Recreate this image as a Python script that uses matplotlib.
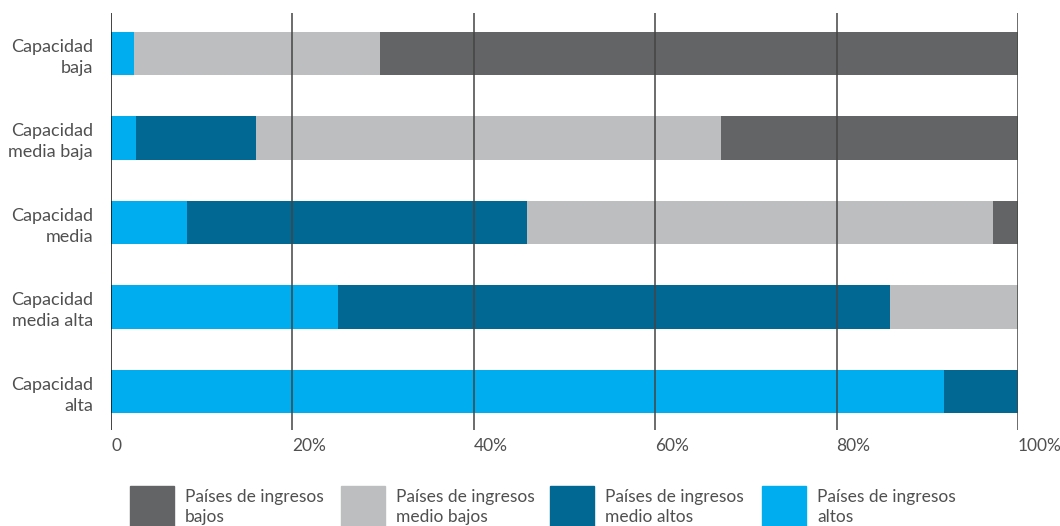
import numpy as np
import matplotlib.pyplot as plt
from matplotlib.patches import Rectangle

plt.rcParams['font.family'] = ['Lato', 'DejaVu Sans']

# income groups share per capacity level (percent)
categorias = ['Capacidad\nbaja', 'Capacidad\nmedia baja', 'Capacidad\nmedia',
              'Capacidad\nmedia alta', 'Capacidad\nalta']
altos = [2.5, 2.8, 8.4, 25.0, 91.8]
medio_altos = [0.0, 13.2, 37.5, 60.9, 8.2]
medio_bajos = [27.2, 51.3, 51.3, 14.1, 0.0]
bajos = [70.3, 32.7, 2.8, 0.0, 0.0]

series = [altos, medio_altos, medio_bajos, bajos]
colores = ['#00aeef', '#006892', '#bcbec0', '#636466']
etiquetas = ['Países de ingresos\naltos', 'Países de ingresos\nmedio altos',
             'Países de ingresos\nmedio bajos', 'Países de ingresos\nbajos']
ticks = [0, 20, 40, 60, 80, 100]
tick_labels = ['0', '20%', '40%', '60%', '80%', '100%']

txt = '#505050'

fig = plt.figure(figsize=(10.6, 5.26), dpi=100)
ax = fig.add_axes([111 / 1060, 1 - 430 / 526, 907 / 1060, 417 / 526])

y = np.arange(len(categorias))
left = np.zeros(len(categorias))
for vals, col in zip(series, colores):
    ax.barh(y, vals, left=left, height=0.51, color=col, zorder=1)
    left += np.array(vals)

ax.set_xlim(0, 100)
ax.set_ylim(4.456, -0.479)

for t in ticks:
    ax.axvline(t, color='#111111' if t == 0 else '#444444', lw=1.1, zorder=3)

ax.set_xticks(ticks)
ax.set_xticklabels(tick_labels, ha='left', fontsize=12.5, color=txt)
ax.set_yticks(y)
ax.set_yticklabels(categorias, fontsize=13, color=txt, linespacing=1.35)
ax.tick_params(axis='both', length=0)
ax.tick_params(axis='x', pad=6)
ax.tick_params(axis='y', pad=13)
for s in ax.spines.values():
    s.set_visible(False)

# legend row along the bottom edge
orden = [3, 2, 1, 0]
xs = [130, 341, 550, 762]
for xp, i in zip(xs, orden):
    fig.patches.append(Rectangle((xp / 1060, -8 / 526), 44 / 1060, 48 / 526,
                                 transform=fig.transFigure, color=colores[i]))
    fig.text((xp + 55) / 1060, 1 - 507 / 526, etiquetas[i], fontsize=12.5,
             color=txt, va='center', ha='left', linespacing=1.35)

fig.savefig('out.png', dpi=100)
